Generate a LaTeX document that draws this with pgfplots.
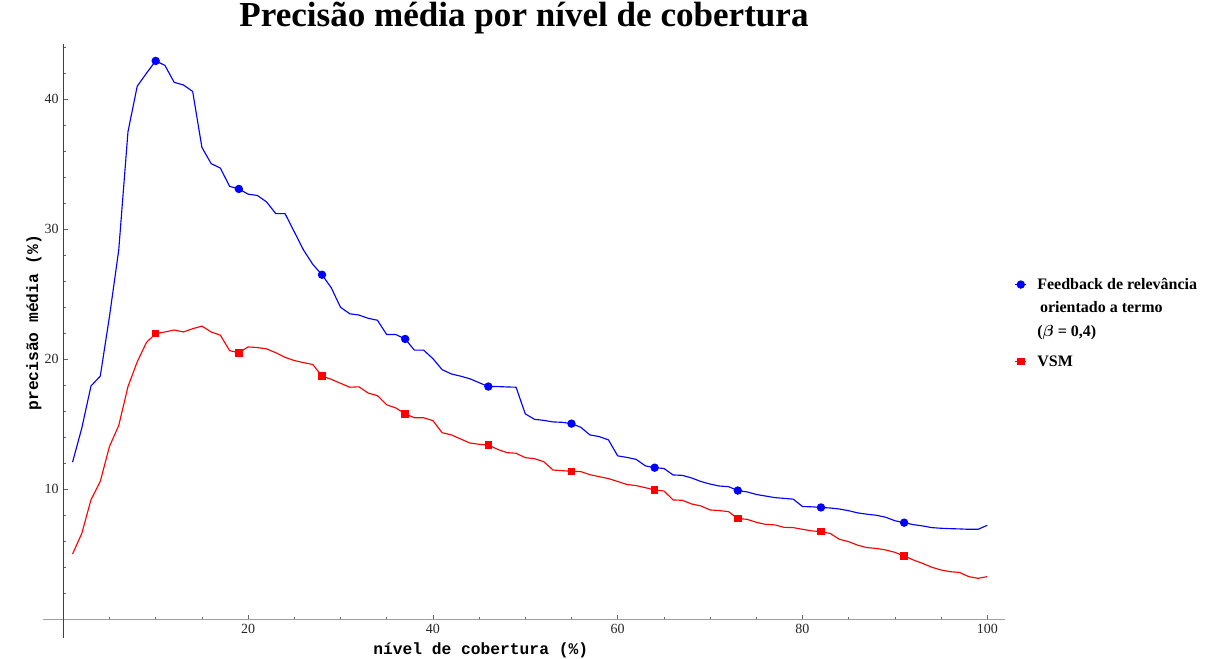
\documentclass[border=0pt]{standalone}
\usepackage{fontspec}
\setmainfont{Liberation Serif}
\setmonofont{Liberation Mono}
\usepackage{pgfplots}
\pgfplotsset{compat=1.18}

% legend images: short line with the mark in its middle
\pgfplotsset{
  upper legend/.style={legend image code/.code={%
    \draw[##1, mark indices={2}] plot coordinates {(0pt,3.5pt) (4pt,3.5pt) (8pt,3.5pt)};}},
  lower legend/.style={legend image code/.code={%
    \draw[##1, mark indices={2}] plot coordinates {(0pt,-1.5pt) (4pt,-1.5pt) (8pt,-1.5pt)};}},
}

% Precisão média por nível de cobertura (x = 1..100 %)
\pgfplotstableread{
x   y
1   12.08
2   14.7
3   17.95
4   18.7
5   23.3
6   28.4
7   37.5
8   41.0
9   42.0
10  42.95
11  42.6
12  41.3
13  41.1
14  40.6
15  36.3
16  35.05
17  34.7
18  33.3
19  33.1
20  32.7
21  32.6
22  32.1
23  31.2
24  31.2
25  29.8
26  28.4
27  27.3
28  26.5
29  25.5
30  24.0
31  23.5
32  23.4
33  23.15
34  23.0
35  21.9
36  21.9
37  21.56
38  20.7
39  20.7
40  20.05
41  19.2
42  18.87
43  18.7
44  18.5
45  18.2
46  17.9
47  17.9
48  17.87
49  17.85
50  15.8
51  15.38
52  15.3
53  15.18
54  15.15
55  15.05
56  14.77
57  14.18
58  14.05
59  13.8
60  12.57
61  12.45
62  12.3
63  11.8
64  11.66
65  11.6
66  11.1
67  11.07
68  10.87
69  10.6
70  10.4
71  10.25
72  10.2
73  9.9
74  9.8
75  9.6
76  9.48
77  9.36
78  9.3
79  9.24
80  8.67
81  8.65
82  8.6
83  8.56
84  8.48
85  8.35
86  8.18
87  8.08
88  8.0
89  7.85
90  7.58
91  7.43
92  7.28
93  7.18
94  7.05
95  7.0
96  6.97
97  6.95
98  6.92
99  6.92
100 7.23
}\feedback

\pgfplotstableread{
x   y
1   5.02
2   6.6
3   9.2
4   10.6
5   13.3
6   14.9
7   17.9
8   19.8
9   21.3
10  21.97
11  22.1
12  22.25
13  22.1
14  22.35
15  22.55
16  22.1
17  21.85
18  20.66
19  20.5
20  20.95
21  20.9
22  20.8
23  20.5
24  20.15
25  19.9
26  19.74
27  19.6
28  18.7
29  18.46
30  18.15
31  17.85
32  17.88
33  17.4
34  17.2
35  16.5
36  16.25
37  15.8
38  15.5
39  15.5
40  15.28
41  14.35
42  14.18
43  13.87
44  13.56
45  13.46
46  13.4
47  13.07
48  12.82
49  12.77
50  12.43
51  12.35
52  12.12
53  11.48
54  11.43
55  11.38
56  11.36
57  11.12
58  10.97
59  10.82
60  10.6
61  10.37
62  10.28
63  10.12
64  9.95
65  9.87
66  9.18
67  9.15
68  8.87
69  8.72
70  8.41
71  8.36
72  8.28
73  7.74
74  7.69
75  7.46
76  7.3
77  7.26
78  7.07
79  7.05
80  6.92
81  6.8
82  6.74
83  6.6
84  6.15
85  5.97
86  5.69
87  5.51
88  5.45
89  5.33
90  5.15
91  4.87
92  4.56
93  4.3
94  4.0
95  3.79
96  3.66
97  3.6
98  3.28
99  3.15
100 3.28
}\vsm

\begin{document}
\begin{tikzpicture}
\useasboundingbox (-32.25pt,-15.75pt) rectangle (874.5pt,478.5pt);
\begin{axis}[
  at={(0pt,0pt)}, anchor=south west,
  scale only axis, width=721.5pt, height=445.5pt,
  xmin=-2.197, xmax=101.92, ymin=-1.44, ymax=44.25,
  axis lines=middle,
  axis line style={-},
  x axis line style={draw=gray!75, line width=1.1pt},
  y axis line style={draw=black!75, line width=0.6pt},
  xtick={20,40,60,80,100}, ytick={10,20,30,40},
  minor xtick={5,10,...,100}, minor ytick={2,4,...,44},
  tick align=inside,
  major tick length=3.2pt, minor tick length=1.9pt,
  tick style={black!60, line width=0.5pt},
  ticklabel style={font=\fontsize{10.5}{12}\selectfont, text=black!85},
  /pgf/number format/assume math mode=true,
  title={Precisão média por nível de cobertura},
  title style={font=\bfseries\fontsize{26.3}{30}\selectfont,
    at={(axis description cs:0.5,1.0152)}, anchor=base, yshift=0pt},
  xlabel={nível de cobertura (\%)},
  ylabel={precisão média (\%)},
  every axis x label/.style={at={(axis description cs:0.455,-0.0202)},
    anchor=center, font=\ttfamily\bfseries\fontsize{12.2}{14}\selectfont},
  every axis y label/.style={at={(axis description cs:-0.0094,0.531)},
    rotate=90, anchor=center, font=\ttfamily\bfseries\fontsize{12.2}{14}\selectfont},
  legend style={at={(axis description cs:1.010,0.6152)}, anchor=north west,
    draw=none, fill=none, inner sep=0pt,
    nodes={inner sep=0pt, text height=12.3pt, text depth=5.3pt},
    cells={anchor=base west}, column sep=8pt, row sep=0pt,
    font=\bfseries\fontsize{12}{17.6}\selectfont},
  upper legend,
  clip=false,
]
\addplot[blue, line width=0.85pt, mark=*, mark size=2.7pt,
  mark indices={10,19,28,37,46,55,64,73,82,91},
  mark options={solid, fill=blue, draw=blue}] table {\feedback};
\addlegendentry{Feedback de relevância}
\addlegendimage{empty legend}
\addlegendentry{\hspace{2pt}orientado a termo}
\addlegendimage{empty legend}
\addlegendentry{({\boldmath$\beta$} = 0,4)}
\addplot[red, line width=0.85pt, mark=square*, mark size=2.4pt,
  mark indices={10,19,28,37,46,55,64,73,82,91},
  mark options={solid, fill=red, draw=red}, lower legend] table {\vsm};
\addlegendentry{\raisebox{-5pt}{VSM}}
\end{axis}
\end{tikzpicture}
\end{document}
